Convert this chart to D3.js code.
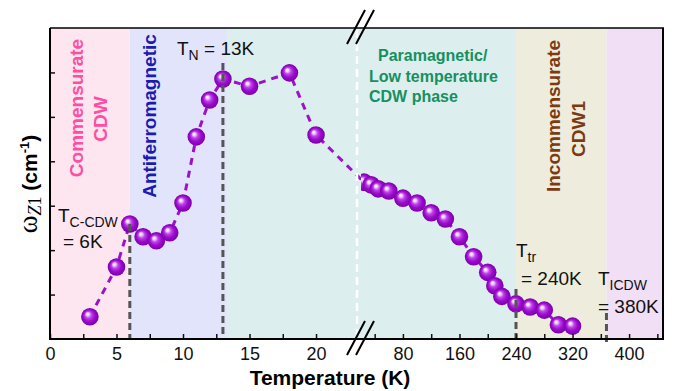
<!DOCTYPE html>
<html><head><meta charset="utf-8">
<script src="https://cdn.jsdelivr.net/npm/d3@7"></script>
<style>body{margin:0;background:#fff}svg{display:block}text{font-family:"Liberation Sans",Arial,sans-serif}</style>
</head><body><svg id="c" width="682" height="391"></svg>
<script>
// ---- data ----
const tempLow   = [3, 5, 6, 7, 8, 9, 10, 11, 12, 13, 15, 18, 20];
const omegaLow  = [0.50, 1.62, 2.59, 2.30, 2.21, 2.39, 3.06, 4.55, 5.38, 5.85, 5.69, 5.99, 4.59];
const tempHigh  = [25, 35, 45, 60, 80, 100, 120, 140, 160, 180, 200, 210, 220, 240, 260, 280, 300, 320];
const omegaHigh = [3.53, 3.47, 3.38, 3.33, 3.17, 3.06, 2.84, 2.70, 2.30, 1.85, 1.50, 1.20, 0.96, 0.79, 0.72, 0.65, 0.32, 0.29];
const lowTickLabels  = [0, 5, 10, 15, 20];
const lowMinorTicks  = [2.5, 7.5, 12.5, 17.5];
const highTickLabels = [80, 160, 240, 320, 400];
const highMinorTicks = [40, 120, 200, 280, 360, 440];
const yTicks = [1, 2, 3, 4, 5, 6];
const phaseNames  = ["Commensurate CDW", "Antiferromagnetic", "Paramagnetic", "Incommensurate CDW1", "ICDW"];
const phaseStart  = [0, 6, 13.3, 240, 368];
const phaseEnd    = [6, 13.3, 240, 368, 448];
const phaseColors = ["#fde6f0", "#e1e4fb", "#dceeee", "#eeeddd", "#f1dff5"];
const transT = [6, 13, 240, 368];

// ---- layout ----
const L = 50, R = 663, T = 28, B = 339, BRK = 357;
const svg = d3.select("#c");
const xL = d3.scaleLinear().domain([0, 23.08]).range([L, BRK]);
const xR = d3.scaleLinear().domain([15, 448]).range([BRK, R]);
const X = t => (t <= 23 ? xL(t) : xR(t));
const y = d3.scaleLinear().domain([0, 7]).range([B, T]);

const defs = svg.append("defs");
const g = defs.append("radialGradient").attr("id", "ball")
  .attr("cx", "50%").attr("cy", "50%").attr("r", "50%").attr("fx", "35%").attr("fy", "32%");
[[0, "#ffffff"], [0.16, "#f2d2fb"], [0.38, "#bd44e6"], [0.66, "#9c0bce"], [1, "#7a00a8"]]
  .forEach(([o, c]) => g.append("stop").attr("offset", o).attr("stop-color", c));
defs.append("clipPath").attr("id", "clipL").append("rect").attr("x", L).attr("y", T).attr("width", BRK - L).attr("height", B - T);
defs.append("clipPath").attr("id", "clipR").append("rect").attr("x", 361).attr("y", T).attr("width", R - 361).attr("height", B - T);
defs.append("clipPath").attr("id", "clipA").append("rect").attr("x", L).attr("y", T).attr("width", R - L).attr("height", B - T);

// backgrounds
phaseStart.forEach((s, i) => {
  const x0 = i <= 2 ? xL(s) : xR(s);
  const x1 = i <= 1 ? xL(phaseEnd[i]) : xR(phaseEnd[i]);
  svg.append("rect").attr("x", x0).attr("y", T).attr("width", x1 - x0).attr("height", B - T).attr("fill", phaseColors[i]);
});

// connecting dashed line
const pts = tempLow.map((t, i) => [t, omegaLow[i]]).concat(tempHigh.map((t, i) => [t, omegaHigh[i]]));
svg.append("path").attr("clip-path", "url(#clipA)")
  .attr("d", d3.line().x(d => X(d[0])).y(d => y(d[1]))(pts))
  .attr("fill", "none").attr("stroke", "#9a12c9").attr("stroke-width", 3).attr("stroke-dasharray", "7,6");

// white break line
svg.append("line").attr("x1", BRK).attr("x2", BRK).attr("y1", T + 2).attr("y2", B - 3)
  .attr("stroke", "#fff").attr("stroke-width", 2.5).attr("stroke-dasharray", "8,5");

// balls
svg.append("g").attr("clip-path", "url(#clipL)").selectAll("circle")
  .data(tempLow.map((t, i) => [t, omegaLow[i]])).join("circle")
  .attr("cx", d => xL(d[0])).attr("cy", d => y(d[1])).attr("r", 8.8).attr("fill", "url(#ball)");
svg.append("g").attr("clip-path", "url(#clipR)").selectAll("circle")
  .data(tempHigh.map((t, i) => [t, omegaHigh[i]])).join("circle")
  .attr("cx", d => xR(d[0])).attr("cy", d => y(d[1])).attr("r", 8.8).attr("fill", "url(#ball)");

// transition dashed lines
const transTop = [224, 63, 289, 313];
transT.forEach((t, i) => {
  const xx = i < 2 ? xL(t) : xR(t);
  svg.append("line").attr("x1", xx).attr("x2", xx).attr("y1", transTop[i]).attr("y2", i === 3 ? B + 4 : B)
    .attr("stroke", "#555").attr("stroke-width", 3).attr("stroke-dasharray", "7,4");
});

// axes
const axL = d3.axisBottom(xL).tickValues(lowTickLabels).tickSize(-5).tickPadding(8);
const axR = d3.axisBottom(xR).tickValues(highTickLabels).tickSize(-5).tickPadding(8);
function styleAxis(sel) {
  sel.select(".domain").remove();
  sel.selectAll("text").attr("font-size", 18).attr("fill", "#111").style("font-family", '"Liberation Sans",Arial,sans-serif');
  sel.selectAll("line").attr("stroke", "#111").attr("stroke-width", 1.5);
}
svg.append("g").attr("transform", `translate(0,${B})`).call(axL).call(styleAxis);
svg.append("g").attr("transform", `translate(0,${B})`).call(axR).call(styleAxis);
svg.append("g").attr("transform", `translate(0,${B})`).call(d3.axisBottom(xL).tickValues(lowMinorTicks).tickSize(-5).tickFormat("")).call(styleAxis);
svg.append("g").attr("transform", `translate(0,${B})`).call(d3.axisBottom(xR).tickValues(highMinorTicks).tickSize(-5).tickFormat("")).call(styleAxis);
svg.append("g").attr("transform", `translate(${L},0)`).call(d3.axisLeft(y).tickValues(yTicks).tickSize(-5).tickFormat("")).call(styleAxis);

// frame
svg.append("line").attr("x1", L).attr("x2", R).attr("y1", B).attr("y2", B).attr("stroke", "#000").attr("stroke-width", 2);
svg.append("line").attr("x1", L).attr("x2", L).attr("y1", T).attr("y2", B + 1).attr("stroke", "#000").attr("stroke-width", 2);
svg.append("line").attr("x1", L).attr("x2", R + 1).attr("y1", T).attr("y2", T).attr("stroke", "#000").attr("stroke-width", 1.5);
svg.append("line").attr("x1", R).attr("x2", R).attr("y1", T).attr("y2", B + 1).attr("stroke", "#000").attr("stroke-width", 2);

// break marks
[[T], [B]].forEach(([yy]) => {
  [[347, 365], [356, 374]].forEach(([a, b]) => {
    svg.append("line").attr("x1", a).attr("y1", yy + 16).attr("x2", b).attr("y2", yy - 18)
      .attr("stroke", "#000").attr("stroke-width", 2);
  });
});

// axis titles
svg.append("text").attr("x", 330).attr("y", 385).attr("text-anchor", "middle")
  .attr("font-size", 21).attr("font-weight", "bold").attr("fill", "#000").text("Temperature (K)");
const yl = svg.append("text").attr("transform", "translate(37,184) rotate(-90)").attr("text-anchor", "middle").attr("fill", "#000");
yl.append("tspan").attr("font-family", '"Liberation Serif",serif').attr("font-size", 27).text("ω");
yl.append("tspan").attr("font-family", '"Liberation Serif",serif').attr("font-style", "italic").attr("font-size", 18).attr("dy", 4).text("Z");
yl.append("tspan").attr("font-family", '"Liberation Serif",serif').attr("font-size", 18).text("1");
yl.append("tspan").attr("font-weight", "bold").attr("font-size", 21).attr("dy", -4).text(" (cm");
yl.append("tspan").attr("font-weight", "bold").attr("font-size", 13).attr("dy", -8).text("-1");
yl.append("tspan").attr("font-weight", "bold").attr("font-size", 21).attr("dy", 8).text(")");

// phase labels (rotated)
function vlabel(txt, bx, cy, color) {
  svg.append("text").attr("transform", `translate(${bx},${cy}) rotate(-90)`).attr("text-anchor", "middle")
    .attr("font-size", 19).attr("font-weight", "bold").attr("fill", color).text(txt);
}
vlabel("Commensurate", 83, 108, "#ff4da1");
vlabel("CDW", 107, 119, "#ff4da1");
vlabel("Antiferromagnetic", 156, 116, "#1b1bb2");
vlabel("Incommensurate", 560, 116, "#7b3a12");
vlabel("CDW1", 585, 129, "#7b3a12");

// paramagnetic label
const para = svg.append("g").attr("font-size", 16).attr("font-weight", "bold").attr("fill", "#16905e");
para.append("text").attr("x", 378).attr("y", 61).text("Paramagnetic/");
para.append("text").attr("x", 369).attr("y", 82).text("Low temperature");
para.append("text").attr("x", 369).attr("y", 102).text("CDW phase");

// transition annotations
function tlabel(x, yb, sub, line2, x2, y2) {
  const t = svg.append("text").attr("x", x).attr("y", yb).attr("font-size", 19).attr("fill", "#111");
  t.append("tspan").text("T");
  t.append("tspan").attr("font-size", 14).attr("dy", 5).text(sub);
  if (line2 && !x2) { t.append("tspan").attr("dy", -5).text(line2); }
  if (x2) svg.append("text").attr("x", x2).attr("y", y2).attr("font-size", 19).attr("fill", "#111").text(line2);
}
tlabel(177, 55, "N", " = 13K");
tlabel(58, 222, "C-CDW", "= 6K", 63, 248);
tlabel(516, 257, "tr", "= 240K", 521, 285);
tlabel(598, 285, "ICDW", "= 380K", 598, 313);
</script></body></html>
